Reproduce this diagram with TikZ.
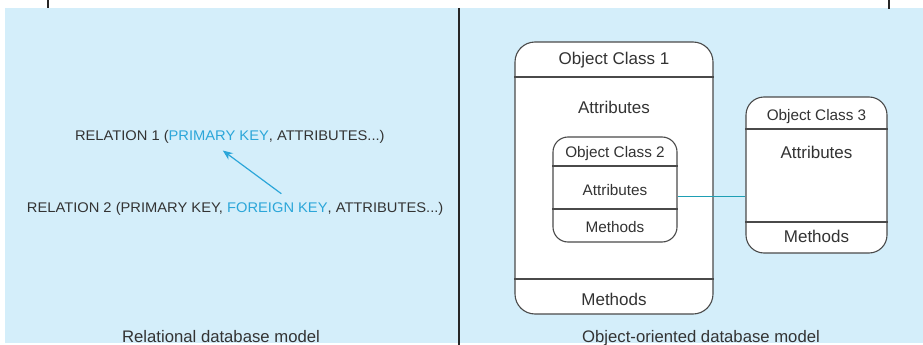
\documentclass[tikz,border=0pt]{standalone}
\usepackage{fontspec}
\setmainfont{Liberation Sans}
\newfontfamily\relfont[FakeStretch=1.05]{Liberation Sans}
\usetikzlibrary{arrows.meta}

\definecolor{panelblue}{HTML}{D4EEFA}
\definecolor{keycyan}{HTML}{2BA6D9}
\definecolor{linkteal}{HTML}{1E9FB4}
\definecolor{txt}{HTML}{333333}
\definecolor{boxline}{HTML}{4A4A4A}

\tikzset{
  boxframe/.style={draw=boxline, line width=1.1pt, fill=white, inner sep=0pt},
  divider/.style={draw=boxline, line width=1.1pt},
  bigtext/.style={font=\fontsize{17}{20}\selectfont, text=txt, anchor=base, inner sep=0pt},
  smalltext/.style={font=\fontsize{15.3}{18}\selectfont, text=txt, anchor=base, inner sep=0pt},
  reltext/.style={font=\relfont\fontsize{14}{16}\selectfont, text=txt, anchor=base west, inner sep=0pt, outer sep=0pt},
  caption/.style={font=\fontsize{16.7}{19}\selectfont, text=txt, anchor=base, inner sep=0pt},
  keyarrow/.style={draw=keycyan, line width=1.2pt, -{Stealth[length=10pt,width=8pt]}},
  link/.style={draw=linkteal, line width=1pt},
  rule/.style={draw=black!85, line width=1.1pt}
}

\begin{document}
\begin{tikzpicture}[x=1pt, y=-1pt]
  % canvas and panel
  \useasboundingbox (0,0) rectangle (923,345);
  \fill[panelblue] (5,8) rectangle (923,343);
  \draw[rule] (48,0) -- (48,8);
  \draw[rule] (889,0) -- (889,9);
  \draw[rule] (459,8) -- (459,345);

  % relational model
  \node[reltext] (r1a) at (75,140.5) {RELATION 1 (};
  \node[reltext, text=keycyan] (pk) at (r1a.base east) {PRIMARY KEY};
  \node[reltext] (r1c) at (pk.base east) {, ATTRIBUTES...)};

  \node[reltext] (r2a) at (27,212.5) {RELATION 2 (PRIMARY KEY,};
  \node[reltext, text=keycyan] (fk) at (r2a.base east) {\mbox{}\ FOREIGN KEY};
  \node[reltext] (r2c) at (fk.base east) {, ATTRIBUTES...)};

  \draw[keyarrow] ([xshift=6pt,yshift=9pt]fk.north) -- ([xshift=4pt,yshift=-10pt]pk.south);

  % object-oriented model: class 1
  \node[boxframe, rounded corners=20pt, minimum width=198pt, minimum height=272pt] (oc1) at (614,178) {};
  \draw[divider] (oc1.west |- 0,77) -- (oc1.east |- 0,77);
  \draw[divider] (oc1.west |- 0,279) -- (oc1.east |- 0,279);
  \node[bigtext] (oc1t) at (oc1.north |- 0,65) {Object Class 1};
  \node[bigtext] (oc1a) at (oc1.north |- 0,113.5) {Attributes};
  \node[bigtext] (oc1m) at (oc1.north |- 0,305) {Methods};

  % class 2, nested in class 1
  \node[boxframe, rounded corners=15pt, minimum width=124pt, minimum height=105pt] (oc2) at (615,189.5) {};
  \draw[divider] (oc2.west |- 0,166) -- (oc2.east |- 0,166);
  \draw[divider] (oc2.west |- 0,209) -- (oc2.east |- 0,209);
  \node[smalltext] (oc2t) at (oc2.north |- 0,157.5) {Object Class 2};
  \node[smalltext] (oc2a) at (oc2.north |- 0,195.5) {Attributes};
  \node[smalltext] (oc2m) at (oc2.north |- 0,232.5) {Methods};

  % class 3
  \node[boxframe, rounded corners=18pt, minimum width=141pt, minimum height=156pt] (oc3) at (816.5,175) {};
  \draw[divider] (oc3.west |- 0,129) -- (oc3.east |- 0,129);
  \draw[divider] (oc3.west |- 0,222) -- (oc3.east |- 0,222);
  \node[smalltext] (oc3t) at (oc3.north |- 0,120) {Object Class 3};
  \node[bigtext] (oc3a) at (oc3.north |- 0,158) {Attributes};
  \node[bigtext] (oc3m) at (oc3.north |- 0,242) {Methods};

  % association between class 2 and class 3
  \draw[link] (oc2.east |- 0,196) -- (oc3.west |- 0,196);

  % panel captions
  \node[caption] (capl) at (221,342) {Relational database model};
  \node[caption] (capr) at (701,342) {Object-oriented database model};
\end{tikzpicture}
\end{document}
